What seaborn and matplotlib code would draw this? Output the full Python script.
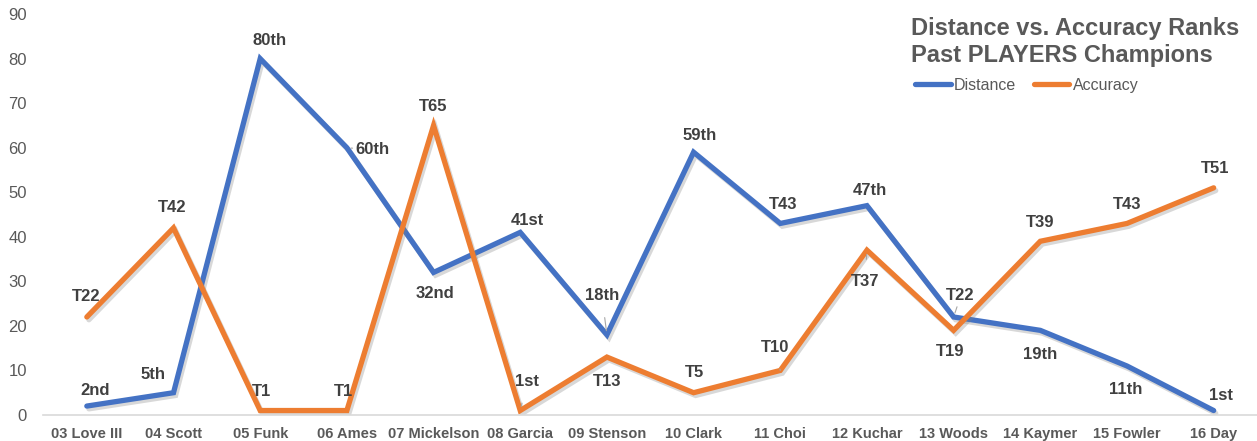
import matplotlib
matplotlib.use("Agg")
import matplotlib.pyplot as plt
import matplotlib.patheffects as pe
import pandas as pd
import seaborn as sns

# data
players = ['03 Love III', '04 Scott', '05 Funk', '06 Ames', '07 Mickelson', '08 Garcia', '09 Stenson',
           '10 Clark', '11 Choi', '12 Kuchar', '13 Woods', '14 Kaymer', '15 Fowler', '16 Day']
distance = [2, 5, 80, 60, 32, 41, 18, 59, 43, 47, 22, 19, 11, 1]
accuracy = [22, 42, 1, 1, 65, 1, 13, 5, 10, 37, 19, 39, 43, 51]
distance_labels = ['2nd', '5th', '80th', '60th', '32nd', '41st', '18th', '59th', 'T43', '47th', 'T22', '19th', '11th', '1st']
accuracy_labels = ['T22', 'T42', 'T1', 'T1', 'T65', '1st', 'T13', 'T5', 'T10', 'T37', 'T19', 'T39', 'T43', 'T51']

# label placement (pixels from the point) and which ones have a leader line
dist_off = [(8, 16), (-20, 18), (9, 18), (26, -2), (1, -21), (7, 12), (-5, 39),
            (6, 17), (3, 19), (3, 15), (7, 21), (0, -24), (-1, -24), (7, 15)]
acc_off = [(-1, 20), (-1, 20), (1, 19), (-3, 19), (0, 19), (7, 29), (0, -24),
           (1, 20), (-5, 23), (-2, -31), (-3, -21), (0, 19), (0, 19), (1, 19)]
dist_lead = [3, 6, 10]
acc_lead = [5, 8, 9]

df = pd.DataFrame({
    'x': list(range(len(players))) * 2,
    'rank': distance + accuracy,
    'series': ['Distance'] * len(players) + ['Accuracy'] * len(players),
})

sns.set_style('white')
plt.rcParams['font.family'] = ['Liberation Sans', 'DejaVu Sans']

fig = plt.figure(figsize=(12.57, 4.41), dpi=100)
ax = fig.add_axes([0.0346, 0.059, 0.9654, 0.909])

blue = '#4472C4'
orange = '#ED7D31'
sns.lineplot(data=df, x='x', y='rank', hue='series', palette={'Distance': blue, 'Accuracy': orange},
             sort=False, linewidth=3.8, ax=ax)
for ln in ax.lines:
    ln.set_path_effects([pe.SimpleLineShadow(offset=(1.5, -2), shadow_color='gray', alpha=0.3), pe.Normal()])
    ln.set_solid_joinstyle('miter')

ax.set_xlim(-0.5, len(players) - 0.5)
ax.set_ylim(0, 90)
ax.set_yticks(range(0, 91, 10))
ax.set_xticks(range(len(players)))
ax.set_xticklabels(players, fontsize=10.5, fontweight='bold', color='#595959')
ax.tick_params(axis='y', labelsize=12, colors='#595959', length=0, pad=12)
ax.tick_params(axis='x', length=0, pad=9)
ax.set_xlabel('')
ax.set_ylabel('')
for s in ['top', 'right', 'left']:
    ax.spines[s].set_visible(False)
ax.spines['bottom'].set_color('#D9D9D9')
ax.spines['bottom'].set_linewidth(1.2)

def put_labels(vals, labs, offs, leads):
    for i, (v, t) in enumerate(zip(vals, labs)):
        dx, dy = offs[i]
        kw = {}
        if i in leads:
            kw['arrowprops'] = dict(arrowstyle='-', color='#A6A6A6', lw=0.8, shrinkA=8, shrinkB=3)
        ax.annotate(t, xy=(i, v), xytext=(dx, dy), textcoords='offset pixels', ha='center', va='center',
                    fontsize=12, fontweight='bold', color='#404040', **kw)

put_labels(distance, distance_labels, dist_off, dist_lead)
put_labels(accuracy, accuracy_labels, acc_off, acc_lead)

fig.text(0.7245, 0.905, 'Distance vs. Accuracy Ranks\nPast PLAYERS Champions', ha='left', va='center',
         fontsize=17, fontweight='bold', color='#595959', linespacing=1.2)

sns.move_legend(ax, loc='center left', bbox_to_anchor=(0.706, 0.823), ncol=2, frameon=False, title=None,
                handlelength=2.25, handletextpad=0.2, columnspacing=1.1, prop={'size': 11.5})
for t in ax.get_legend().get_texts():
    t.set_color('#595959')

fig.savefig('out.png', dpi=100)
